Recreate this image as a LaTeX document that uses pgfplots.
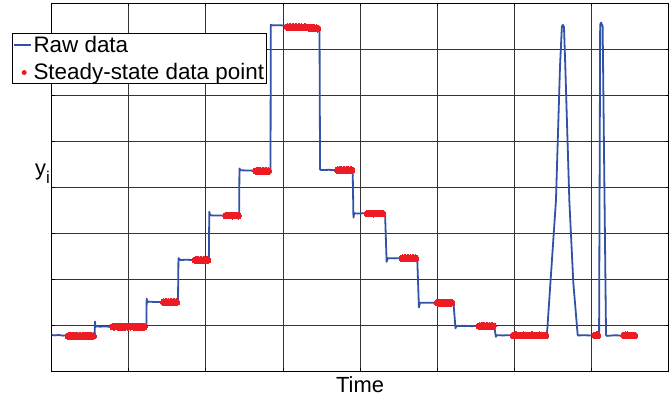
\documentclass[border=0pt]{standalone}
\usepackage{fontspec}
\setmainfont{Liberation Sans}
\usepackage{pgfplots}
\pgfplotsset{compat=1.18}

\definecolor{rawblue}{RGB}{50,82,168}
\definecolor{ssred}{RGB}{237,28,36}

\pgfplotsset{
  rawlegend/.style={legend image code/.code={%
    \draw[rawblue, line width=1.6bp] (0bp,0bp) -- (17bp,0bp);}},
  sslegend/.style={legend image code/.code={%
    \path[draw=none, fill=none] (0bp,-1bp) rectangle (17bp,1bp);
    \fill[ssred, draw=none] (10bp,0bp) circle (2.5bp);}},
}

% raw signal (time, y)
\pgfplotstableread{
t y
0.000 0.790
0.040 0.780
0.090 0.790
0.150 0.775
0.220 0.785
0.300 0.770
0.380 0.780
0.460 0.775
0.540 0.780
0.560 0.785
0.564 1.080
0.570 0.960
0.585 0.985
0.620 0.970
0.700 0.975
0.800 0.965
0.900 0.975
1.000 0.968
1.100 0.975
1.200 0.968
1.230 0.972
1.234 1.580
1.242 1.500
1.260 1.515
1.350 1.505
1.450 1.510
1.550 1.500
1.640 1.505
1.646 2.460
1.655 2.450
1.670 2.420
1.750 2.425
1.850 2.418
1.950 2.425
2.040 2.420
2.046 3.470
2.055 3.400
2.070 3.390
2.150 3.385
2.250 3.390
2.350 3.385
2.433 3.390
2.437 4.410
2.450 4.370
2.550 4.365
2.650 4.360
2.750 4.365
2.840 4.370
2.843 7.530
2.870 7.520
2.950 7.525
3.050 7.510
3.150 7.500
3.250 7.505
3.350 7.495
3.460 7.490
3.475 7.480
3.482 4.390
3.495 4.375
3.600 4.380
3.700 4.372
3.800 4.378
3.905 4.375
3.915 3.340
3.925 3.440
3.950 3.430
4.050 3.435
4.150 3.428
4.250 3.432
4.325 3.430
4.345 2.380
4.360 2.460
4.450 2.455
4.550 2.462
4.650 2.455
4.742 2.458
4.764 1.390
4.778 1.490
4.850 1.492
4.950 1.488
5.050 1.492
5.150 1.488
5.212 1.490
5.238 0.935
5.250 0.985
5.350 0.988
5.450 0.982
5.550 0.987
5.650 0.983
5.740 0.985
5.762 0.750
5.775 0.785
5.850 0.780
5.950 0.785
6.050 0.778
6.150 0.784
6.250 0.779
6.350 0.783
6.421 0.780
6.430 0.950
6.541 3.720
6.593 6.620
6.618 7.500
6.632 7.530
6.645 7.480
6.662 6.620
6.714 3.720
6.766 1.920
6.823 0.780
6.900 0.783
7.000 0.779
7.090 0.782
7.100 0.800
7.114 7.540
7.127 7.580
7.146 7.500
7.190 0.790
7.200 0.770
7.300 0.782
7.400 0.778
7.500 0.783
7.590 0.780
}\rawdata

% samples flagged as steady state
\pgfplotstableread{
t y
0.220 0.770
0.240 0.771
0.260 0.772
0.280 0.769
0.300 0.768
0.320 0.770
0.340 0.770
0.360 0.768
0.380 0.767
0.400 0.770
0.420 0.771
0.440 0.769
0.460 0.768
0.480 0.770
0.500 0.770
0.520 0.771
0.540 0.769
0.800 0.970
0.820 0.971
0.840 0.972
0.860 0.970
0.880 0.968
0.900 0.969
0.920 0.971
0.940 0.970
0.960 0.969
0.980 0.971
1.000 0.970
1.020 0.971
1.040 0.972
1.060 0.970
1.080 0.968
1.100 0.969
1.120 0.970
1.140 0.971
1.160 0.969
1.180 0.970
1.200 0.971
1.456 1.505
1.476 1.506
1.497 1.507
1.517 1.505
1.538 1.503
1.558 1.505
1.579 1.506
1.599 1.505
1.620 1.504
1.867 2.420
1.887 2.421
1.906 2.422
1.926 2.420
1.945 2.418
1.965 2.420
1.984 2.421
2.004 2.420
2.023 2.419
2.265 3.385
2.284 3.386
2.304 3.387
2.323 3.385
2.343 3.383
2.362 3.385
2.382 3.386
2.401 3.385
2.420 3.384
2.654 4.355
2.674 4.356
2.693 4.357
2.713 4.355
2.732 4.353
2.752 4.355
2.771 4.356
2.791 4.355
2.810 4.354
3.064 7.485
3.083 7.482
3.103 7.480
3.122 7.483
3.142 7.485
3.161 7.481
3.181 7.478
3.200 7.480
3.220 7.482
3.239 7.478
3.259 7.475
3.278 7.477
3.298 7.478
3.317 7.474
3.337 7.470
3.356 7.469
3.376 7.468
3.395 7.464
3.415 7.460
3.432 7.455
3.450 7.450
3.712 4.376
3.730 4.377
3.748 4.378
3.766 4.376
3.784 4.374
3.802 4.375
3.820 4.377
3.838 4.376
3.856 4.375
3.873 4.376
3.890 4.376
4.097 3.430
4.116 3.431
4.136 3.432
4.155 3.430
4.175 3.428
4.194 3.430
4.214 3.431
4.233 3.430
4.253 3.429
4.271 3.430
4.290 3.430
4.550 2.458
4.571 2.459
4.593 2.460
4.614 2.458
4.635 2.456
4.656 2.458
4.678 2.459
4.699 2.458
4.720 2.457
5.005 1.490
5.023 1.491
5.041 1.492
5.060 1.490
5.078 1.488
5.096 1.490
5.114 1.491
5.133 1.490
5.151 1.489
5.169 1.490
5.187 1.490
5.550 0.985
5.571 0.986
5.593 0.987
5.614 0.985
5.635 0.983
5.656 0.985
5.678 0.986
5.699 0.985
5.720 0.984
5.990 0.780
6.011 0.781
6.032 0.782
6.052 0.780
6.073 0.778
6.094 0.780
6.115 0.781
6.136 0.780
6.156 0.779
6.177 0.780
6.198 0.780
6.219 0.781
6.240 0.782
6.260 0.780
6.281 0.778
6.302 0.780
6.323 0.781
6.344 0.780
6.364 0.779
6.385 0.780
6.406 0.780
7.050 0.780
7.065 0.781
7.080 0.781
7.425 0.780
7.447 0.781
7.469 0.782
7.490 0.780
7.512 0.778
7.534 0.779
7.556 0.780
}\steadydata

\begin{document}
\begin{tikzpicture}
\useasboundingbox (-51.5bp,-28.7bp) rectangle (620.5bp,371.3bp);
\begin{axis}[
  at={(0,0)}, anchor=south west,
  scale only axis,
  width=617bp, height=368bp,
  xmin=0, xmax=8, ymin=0, ymax=8,
  xtick={0,...,8}, ytick={0,...,8},
  xticklabels={}, yticklabels={},
  grid=major,
  grid style={black!80, line width=0.6bp},
  axis line style={black, line width=0.8bp},
  tick align=inside, major tick length=3bp,
  tick style={black, line width=0.6bp},
  xlabel={Time},
  xlabel style={at={(axis description cs:0.5,0)}, anchor=north, inner sep=0pt,
    yshift=-5.5bp, font=\fontsize{22}{24}\selectfont},
  ylabel={y\raisebox{-8bp}{\fontsize{17}{18}\selectfont i}},
  ylabel style={rotate=-90, at={(axis description cs:-0.0267,0.532)},
    anchor=base west, inner sep=0pt, font=\fontsize{22}{24}\selectfont},
  legend cell align=left,
  legend style={
    at={(rel axis cs:-0.064,0.9193)}, anchor=north west,
    draw=black, line width=0.8bp, fill=white,
    inner xsep=1bp, inner ysep=1bp,
    row sep=7bp,
    font=\fontsize{22.5}{24}\selectfont,
    nodes={inner sep=1.5bp},
    /tikz/every odd column/.style={column sep=0pt},
  },
]
\addplot[rawblue, line width=1.8bp, line join=round, rawlegend]
  table[x=t, y=y] {\rawdata};
\addlegendentry{Raw data}
\addplot[ssred, only marks, mark=*, mark size=3.4bp,
  mark options={draw=ssred, fill=ssred, line width=0pt}, sslegend]
  table[x=t, y=y] {\steadydata};
\addlegendentry{Steady-state data point}
\end{axis}
\end{tikzpicture}
\end{document}
